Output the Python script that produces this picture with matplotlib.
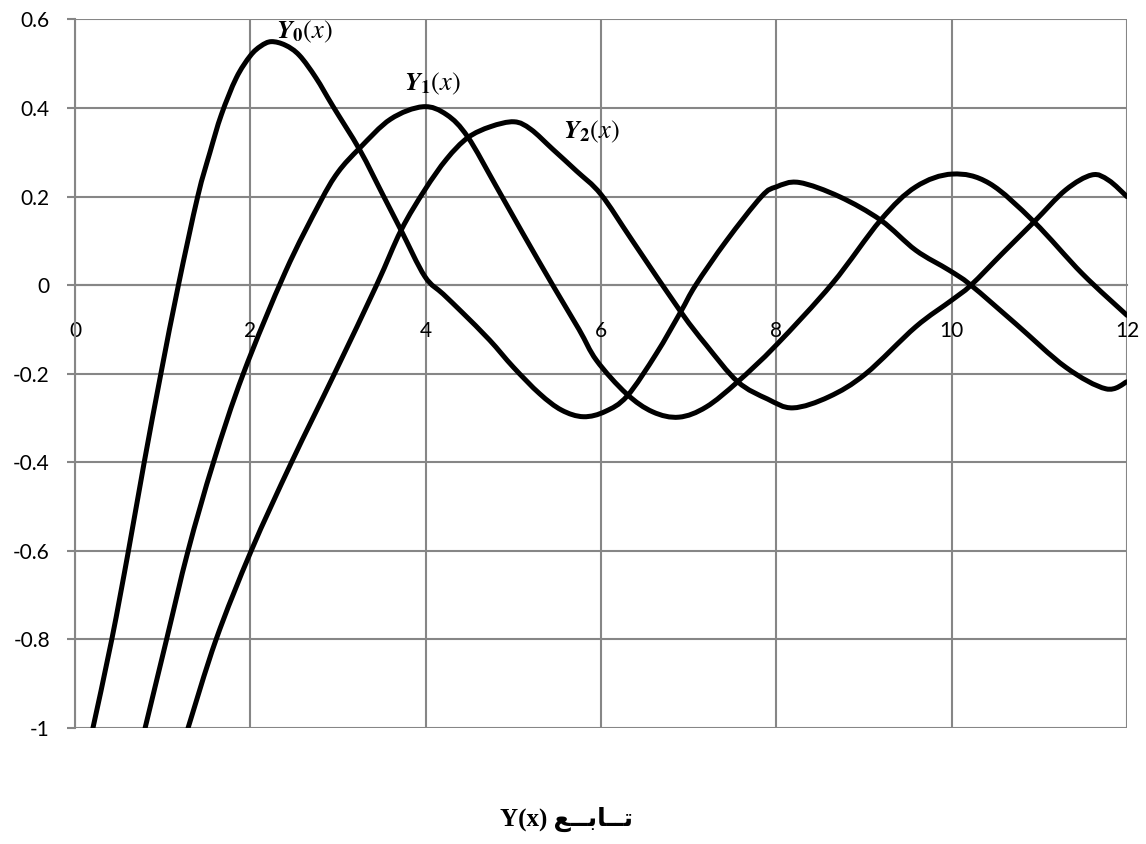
import numpy as np
import matplotlib
matplotlib.use('Agg')
import matplotlib.pyplot as plt
from matplotlib.path import Path
from matplotlib.patches import PathPatch

plt.rcParams['axes.unicode_minus'] = False
plt.rcParams['mathtext.fontset'] = 'stix'

# Y0, Y1, Y2 read point by point
x0 = [0.205, 0.42, 0.61, 0.79, 0.98, 1.18, 1.40, 1.54, 1.67, 1.84, 2.0, 2.12, 2.24, 2.4, 2.56,
      2.75, 2.94, 3.25, 3.51, 3.72, 3.99, 4.2, 4.42, 4.73, 5.0, 5.30, 5.55, 5.8, 6.05, 6.30,
      6.63, 6.91, 7.08, 7.43, 7.83, 8.0, 8.26, 8.72, 9.19, 9.59, 9.97, 10.22, 10.73, 11.30,
      11.76, 12.0]
y0 = [-1.0, -0.8, -0.6, -0.4, -0.2, 0.0, 0.2, 0.3, 0.385, 0.468, 0.518, 0.54, 0.55, 0.542,
      0.519, 0.468, 0.405, 0.305, 0.205, 0.124, 0.02, -0.02, -0.062, -0.124, -0.185, -0.245,
      -0.282, -0.297, -0.285, -0.25, -0.155, -0.06, 0.0, 0.10, 0.2, 0.222, 0.232, 0.20, 0.147,
      0.079, 0.034, 0.0, -0.087, -0.185, -0.234, -0.218]

x1 = [0.80, 1.045, 1.29, 1.58, 1.92, 2.4, 2.79, 3.0, 3.25, 3.6, 3.97, 4.24, 4.48, 4.8, 5.1,
      5.45, 5.75, 5.95, 6.29, 6.59, 6.89, 7.2, 7.56, 8.0, 8.64, 9.19, 9.59, 10.01, 10.43,
      10.94, 11.49, 12.0]
y1 = [-1.0, -0.8, -0.6, -0.4, -0.2, 0.03, 0.185, 0.255, 0.31, 0.375, 0.403, 0.385, 0.335,
      0.225, 0.12, 0.0, -0.10, -0.17, -0.245, -0.286, -0.298, -0.275, -0.218, -0.135, 0.004,
      0.147, 0.222, 0.251, 0.23, 0.143, 0.026, -0.068]

x2 = [1.29, 1.61, 2.01, 2.47, 2.96, 3.44, 3.72, 3.99, 4.24, 4.48, 4.74, 5.01, 5.2, 5.45, 5.72,
      6.0, 6.36, 6.91, 7.2, 7.56, 7.9, 8.19, 8.6, 9.02, 9.59, 10.0, 10.22, 10.58, 10.94,
      11.30, 11.60, 11.79, 12.0]
y2 = [-1.0, -0.8, -0.6, -0.4, -0.2, 0.0, 0.124, 0.215, 0.285, 0.333, 0.358, 0.369, 0.352,
      0.307, 0.258, 0.205, 0.10, -0.06, -0.135, -0.218, -0.257, -0.277, -0.252, -0.20,
      -0.094, -0.034, 0.0, 0.072, 0.143, 0.215, 0.249, 0.237, 0.20]

xticks = [0, 2, 4, 6, 8, 10, 12]
yticks = [0.6, 0.4, 0.2, 0, -0.2, -0.4, -0.6, -0.8, -1]
ylabels = ['0.6', '0.4', '0.2', '0', '-0.2', '-0.4', '-0.6', '-0.8', '-1']

# arabic word in presentation forms, visual order
word = '\uFECA\u0640\u0640\uFE91\uFE8E\u0640\u0640\uFE97'

grey = '#868686'


# smoothed line through the points (bezier segments, catmull-rom handles)
def smooth_path(xs, ys):
    p = np.column_stack([xs, ys])
    n = len(p)
    verts = [p[0]]
    codes = [Path.MOVETO]
    for i in range(n - 1):
        a = p[i - 1] if i > 0 else p[i]
        d = p[i + 2] if i + 2 < n else p[i + 1]
        verts += [p[i] + (p[i + 1] - a) / 6, p[i + 1] - (d - p[i]) / 6, p[i + 1]]
        codes += [Path.CURVE4] * 3
    return Path(verts, codes)


fig = plt.figure(figsize=(11.46, 8.44), dpi=100)
ax = fig.add_axes([0.0654, 0.1374, 0.9834 - 0.0654, 0.9769 - 0.1374])

for xs, ys in [(x0, y0), (x1, y1), (x2, y2)]:
    ax.add_patch(PathPatch(smooth_path(xs, ys), fill=False, edgecolor='black',
                           linewidth=3.6, joinstyle='round', capstyle='round', zorder=3))

ax.set_xlim(0, 12)
ax.set_ylim(-1, 0.6)
ax.set_xticks(xticks)
ax.set_yticks(yticks)
ax.set_yticklabels(ylabels)
ax.grid(True, color=grey, linewidth=1.5)
ax.set_axisbelow(True)

for s in ['top', 'right']:
    ax.spines[s].set_visible(False)
ax.spines['bottom'].set_position(('data', 0))
ax.spines['bottom'].set_color(grey)
ax.spines['bottom'].set_linewidth(1.5)
ax.spines['left'].set_color(grey)
ax.spines['left'].set_linewidth(1.5)

ax.tick_params(axis='x', length=0, pad=26, labelsize=15)
ax.tick_params(axis='y', length=6, width=1.5, color=grey, pad=12, labelsize=15)
for lab in ax.get_xticklabels() + ax.get_yticklabels():
    lab.set_family('Lato')

ax.text(2.29, 0.572, r'$\mathbfit{Y}_{\mathbf{0}}(x)$', fontsize=19, va='center', ha='left')
ax.text(3.75, 0.454, r'$\mathbfit{Y}_{\mathbf{1}}(x)$', fontsize=19, va='center', ha='left')
ax.text(5.57, 0.346, r'$\mathbfit{Y}_{\mathbf{2}}(x)$', fontsize=19, va='center', ha='left')

fig.text(567 / 1146, 1 - 819 / 844, 'Y(x) ' + word, ha='center', va='center',
         fontsize=18, fontweight='bold', family=['Liberation Serif', 'DejaVu Sans'])

fig.savefig('out.png', dpi=100)
